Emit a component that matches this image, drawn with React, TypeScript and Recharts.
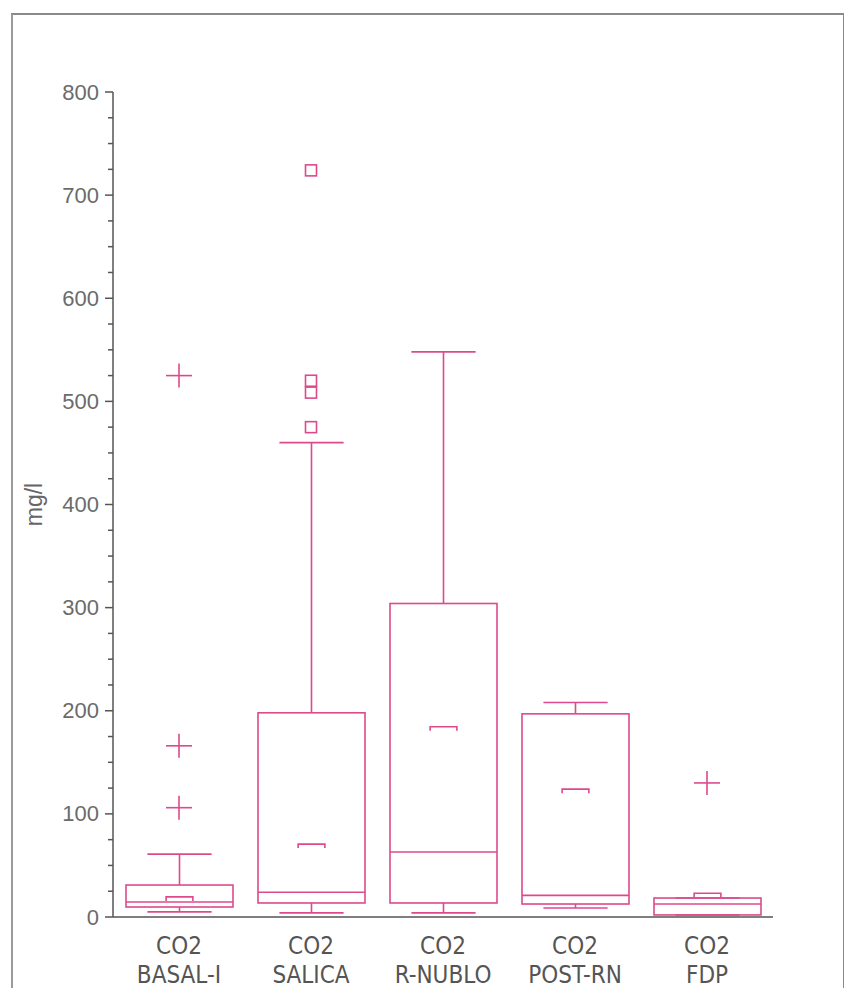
import { ComposedChart, Bar, Scatter, XAxis, YAxis } from 'recharts';

// values (mg/l)
const categories = ['BASAL-I', 'SALICA', 'R-NUBLO', 'POST-RN', 'FDP'];
const whiskerLow = [5, 4, 4, 8.7, 2];
const q1 = [9.7, 13.6, 13.6, 12.6, 2];
const median = [14.5, 24, 63, 21, 12.6];
const q3 = [31, 198, 304, 197, 18.4];
const whiskerHigh = [61, 460, 548, 208, 18.4];
const mean = [19.5, 70.7, 184.5, 124, 23];

// outliers: "+" marks and square marks
const plusOutliers = [
  { name: 'BASAL-I', value: 106 },
  { name: 'BASAL-I', value: 166 },
  { name: 'BASAL-I', value: 525 },
  { name: 'FDP', value: 130 },
];
const squareOutliers = [
  { name: 'SALICA', value: 724 },
  { name: 'SALICA', value: 520 },
  { name: 'SALICA', value: 508.5 },
  { name: 'SALICA', value: 475 },
];

const yTicks = [
  0, 25, 50, 75, 100, 125, 150, 175, 200, 225, 250, 275, 300, 325, 350, 375, 400,
  425, 450, 475, 500, 525, 550, 575, 600, 625, 650, 675, 700, 725, 750, 775, 800,
];

const PINK = '#dc4a8c';
const AXIS = '#555';

const boxData = categories.map((name, i) => ({
  name,
  range: [whiskerLow[i], whiskerHigh[i]],
  low: whiskerLow[i],
  q1: q1[i],
  median: median[i],
  q3: q3[i],
  high: whiskerHigh[i],
  mean: mean[i],
}));

const BoxShape = (props: any) => {
  const { x, y, width, height, payload } = props;
  const { low, high } = payload;
  const top = Math.min(y, y + height);
  const bottom = Math.max(y, y + height);
  const py = (v: number) => bottom - ((bottom - top) * (v - low)) / (high - low);
  const cx = x + width / 2;
  const cap = width * 0.6;
  const mw = width * 0.25;
  const my = py(payload.mean);
  return (
    <g stroke={PINK} strokeWidth={1.6} fill="none">
      <line x1={cx} x2={cx} y1={py(high)} y2={py(payload.q3)} />
      <line x1={cx - cap / 2} x2={cx + cap / 2} y1={py(high)} y2={py(high)} />
      <line x1={cx} x2={cx} y1={py(payload.q1)} y2={py(low)} />
      <line x1={cx - cap / 2} x2={cx + cap / 2} y1={py(low)} y2={py(low)} />
      <rect x={x} y={py(payload.q3)} width={width} height={py(payload.q1) - py(payload.q3)} />
      <line x1={x} x2={x + width} y1={py(payload.median)} y2={py(payload.median)} />
      <path d={`M${cx - mw / 2},${my + 4} V${my} H${cx + mw / 2} V${my + 4}`} />
    </g>
  );
};

const PlusMark = (props: any) => {
  const { cx, cy } = props;
  return (
    <g stroke={PINK} strokeWidth={1.6}>
      <line x1={cx - 13} x2={cx + 13} y1={cy} y2={cy} />
      <line x1={cx} x2={cx} y1={cy - 12} y2={cy + 12} />
    </g>
  );
};

const SquareMark = (props: any) => {
  const { cx, cy } = props;
  return <rect x={cx - 5.5} y={cy - 5.5} width={11} height={11} fill="none" stroke={PINK} strokeWidth={1.6} />;
};

const YTick = (props: any) => {
  const { x, y, payload } = props;
  const major = payload.value % 100 === 0;
  return (
    <g>
      <line x1={x - (major ? 8 : 5)} x2={x} y1={y} y2={y} stroke={AXIS} strokeWidth={1.5} />
      {major && (
        <text
          x={x - 14}
          y={y}
          textAnchor="end"
          dominantBaseline="central"
          fontFamily="'Liberation Sans', Arial, sans-serif"
          fontSize={22}
          fill="#6b6b6b"
        >
          {payload.value}
        </text>
      )}
    </g>
  );
};

const XTick = (props: any) => {
  const { x, y, payload } = props;
  return (
    <text
      textAnchor="middle"
      fontFamily="'Liberation Sans Narrow', 'DejaVu Sans Condensed', 'Arial Narrow', sans-serif"
      fontSize={24}
      fill="#555"
    >
      <tspan x={x} y={y + 37}>CO2</tspan>
      <tspan x={x} y={y + 66}>{payload.value}</tspan>
    </text>
  );
};

const YLabel = (props: any) => {
  const { viewBox } = props;
  const x = viewBox.x + 26;
  const y = viewBox.y + viewBox.height / 2;
  return (
    <text
      x={x}
      y={y}
      transform={`rotate(-90 ${x} ${y})`}
      textAnchor="middle"
      dominantBaseline="central"
      fontFamily="'Liberation Sans', Arial, sans-serif"
      fontSize={23}
      fill="#666"
    >
      mg/l
    </text>
  );
};

export default function App() {
  return (
    <div style={{ position: 'relative', width: 836, height: 980 }}>
      <div
        style={{
          position: 'absolute',
          left: 3,
          top: 5,
          width: 830,
          height: 975,
          borderTop: '2px solid #8a8a8a',
          borderLeft: '2px solid #9a9a9a',
          borderRight: '2px solid #8a8a8a',
        }}
      />
      <ComposedChart
        width={836}
        height={980}
        data={boxData}
        margin={{ top: 84, right: 71, left: 0, bottom: 6 }}
        style={{ position: 'absolute', left: 0, top: 0 }}
      >
        <XAxis
          dataKey="name"
          type="category"
          allowDuplicatedCategory={false}
          interval={0}
          tickLine={false}
          tickSize={0}
          tickMargin={0}
          height={65}
          axisLine={{ stroke: AXIS, strokeWidth: 1.5 }}
          tick={<XTick />}
        />
        <YAxis
          type="number"
          domain={[0, 800]}
          ticks={yTicks}
          interval={0}
          width={105}
          tickLine={false}
          tickSize={0}
          tickMargin={0}
          axisLine={{ stroke: AXIS, strokeWidth: 1.5 }}
          tick={<YTick />}
          label={{ content: <YLabel /> }}
        />
        <Bar dataKey="range" barSize={107} shape={<BoxShape />} isAnimationActive={false} />
        <Scatter data={plusOutliers} dataKey="value" shape={<PlusMark />} isAnimationActive={false} />
        <Scatter data={squareOutliers} dataKey="value" shape={<SquareMark />} isAnimationActive={false} />
      </ComposedChart>
    </div>
  );
}
